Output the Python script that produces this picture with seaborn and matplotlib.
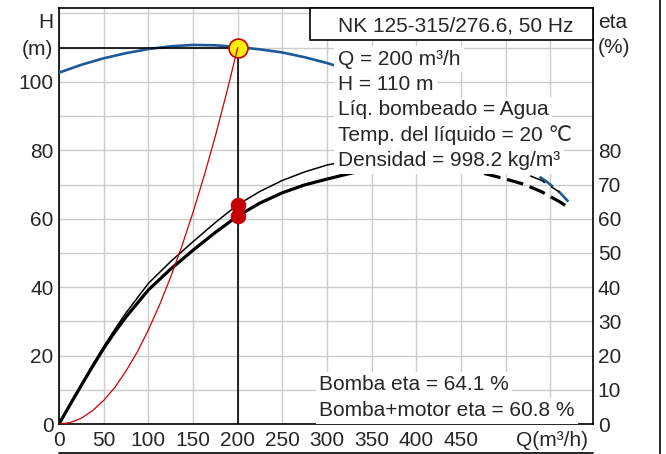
import numpy as np
import matplotlib
matplotlib.use('Agg')
import matplotlib.pyplot as plt
from matplotlib.lines import Line2D
from matplotlib.patches import Rectangle
import seaborn as sns

# curva Q-H de la bomba
q_head = [0, 25, 50, 75, 100, 125, 150, 175, 200, 225, 250, 275, 300, 325, 350, 375, 400,
          425, 450, 475, 500, 525, 545, 560, 570]
h_head = [102.7, 105.0, 106.9, 108.4, 109.6, 110.4, 110.8, 110.7, 110.2, 109.5, 108.6, 107.2,
          105.5, 103.5, 101.0, 98.2, 95.0, 91.5, 87.6, 83.3, 78.6, 74.5, 71.0, 67.8, 65.0]

# curva de la instalacion
q_system = [0, 12.5, 25, 37.5, 50, 62.5, 75, 87.5, 100, 112.5, 125, 137.5, 150, 162.5, 175,
            187.5, 200]
h_system = [0, 0.4, 1.7, 3.9, 6.9, 10.7, 15.5, 21.0, 27.5, 34.8, 43.0, 52.0, 61.9, 72.6, 84.2,
            96.7, 110.0]

# rendimiento bomba
q_eta_pump = [0, 12.5, 25, 37.5, 50, 62.5, 75, 100, 125, 150, 175, 200, 225, 250, 275, 300,
              325, 350, 375, 400, 425, 450, 475, 500, 520, 540, 560]
eta_pump = [0, 5.9, 11.6, 17.2, 22.6, 27.7, 32.5, 41.1, 47.5, 53.3, 58.9, 64.1, 68.0, 71.2,
            73.7, 75.7, 77.0, 78.0, 78.4, 78.3, 77.8, 76.9, 75.7, 74.5, 73.3, 71.2, 67.8]

# rendimiento bomba+motor
q_eta_total = [0, 12.5, 25, 37.5, 50, 62.5, 75, 100, 125, 150, 175, 200, 225, 250, 275, 300,
               325, 350, 375, 400, 425, 450, 475, 500, 520, 540, 560, 569]
eta_total = [0, 5.7, 11.3, 16.8, 22.1, 26.9, 31.3, 39.2, 45.3, 50.8, 56.0, 60.8, 64.6, 67.6,
             69.9, 71.6, 73.2, 74.6, 75.3, 75.5, 75.3, 74.6, 73.3, 71.6, 70.1, 67.9, 65.0, 63.5]

# punto de trabajo
q_op = 200
h_op = 110
eta_op = [64.1, 60.8]
dash_from = 450

x_ticks = [0, 50, 100, 150, 200, 250, 300, 350, 400, 450, 500, 550]
x_labels = ['0', '50', '100', '150', '200', '250', '300', '350', '400', '450', '', '']
h_ticks = list(range(0, 121, 10))
h_labels = ['0', '', '20', '', '40', '', '60', '', '80', '', '100', '', '']
eta_ticks = list(range(0, 81, 10))

info_lines = ['Q = 200 m³/h', 'H = 110 m', 'Líq. bombeado = Agua',
              'Temp. del líquido = 20 ℃', 'Densidad = 998.2 kg/m³']
eta_lines = ['Bomba eta = 64.1 %', 'Bomba+motor eta = 60.8 %']

sns.set_theme(style='white')
plt.rcParams['font.family'] = ['Liberation Sans', 'DejaVu Sans']
plt.rcParams['lines.scale_dashes'] = False
FS = 15

blue = '#1b5a94'
red = '#cc0000'

fig = plt.figure(figsize=(6.66, 4.54), dpi=100)
ax = fig.add_axes([59 / 666, 30 / 454, 534 / 666, 416 / 454])


def draw_curve(q, v, color, lw, z=3):
    q = np.array(q)
    v = np.array(v)
    solid = q <= dash_from
    dashed = q >= dash_from
    sns.lineplot(x=q[solid], y=v[solid], ax=ax, color=color, lw=lw, estimator=None,
                 sort=False, zorder=z)
    sns.lineplot(x=q[dashed], y=v[dashed], ax=ax, color=color, lw=lw, estimator=None,
                 sort=False, zorder=z, linestyle=(0, (12, 5)))


draw_curve(q_head, h_head, blue, 1.9)
draw_curve(q_eta_pump, eta_pump, 'black', 1.1)
draw_curve(q_eta_total, eta_total, 'black', 2.3)

ax.vlines(q_op, 0, h_op, color='black', lw=1.2, zorder=3)
ax.hlines(h_op, 0, q_op, color='black', lw=1.2, zorder=3)

sns.scatterplot(x=[q_op], y=[h_op], ax=ax, s=185, color='#ffee00', edgecolor=red,
                linewidth=1.2, zorder=4)
sns.scatterplot(x=[q_op] * len(eta_op), y=eta_op, ax=ax, s=115, color='#c40000',
                edgecolor='#c40000', linewidth=0.5, zorder=4)
sns.lineplot(x=q_system, y=h_system, ax=ax, color=red, lw=0.9, estimator=None, sort=False,
             zorder=5)

ax.set_xlim(0, 597.6)
ax.set_ylim(0, 121.6)
ax.set_xticks(x_ticks)
ax.set_xticklabels(x_labels, fontsize=FS)
ax.set_yticks(h_ticks)
ax.set_yticklabels(h_labels, fontsize=FS)
ax.tick_params(length=0)
ax.tick_params(axis='x', pad=5)
ax.tick_params(axis='y', pad=4)
ax.grid(True, color='#cccccc', lw=1.0, zorder=0)
ax.set_axisbelow(True)
ax.set_xlabel('')
ax.set_ylabel('')
for s in ax.spines.values():
    s.set_color('black')
    s.set_linewidth(1.2)

ax2 = ax.twinx()
ax2.set_ylim(ax.get_ylim())
ax2.set_yticks(eta_ticks)
ax2.set_yticklabels([str(t) for t in eta_ticks], fontsize=FS)
ax2.tick_params(length=0, pad=3.5)
for s in ax2.spines.values():
    s.set_visible(False)

ax.text(-0.0112, 0.966, 'H', transform=ax.transAxes, ha='right', va='center', fontsize=FS)
ax.text(-0.0112, 0.901, '(m)', transform=ax.transAxes, ha='right', va='center', fontsize=FS)
ax.text(1.0094, 0.966, 'eta', transform=ax.transAxes, ha='left', va='center', fontsize=FS)
ax.text(1.0094, 0.904, '(%)', transform=ax.transAxes, ha='left', va='center', fontsize=FS)
ax.text(0.9906, -0.0385, 'Q(m³/h)', transform=ax.transAxes, ha='right', va='center',
        fontsize=FS)

# caja del titulo
ax.add_patch(Rectangle((0.470, 0.923), 0.530, 0.077, transform=ax.transAxes,
                       facecolor='white', edgecolor='black', lw=1.2, zorder=6,
                       clip_on=False))
ax.text(0.743, 114.7 / 121.6, 'NK 125-315/276.6, 50 Hz', transform=ax.transAxes,
        ha='center', va='baseline', fontsize=FS, zorder=7)

box = dict(facecolor='white', edgecolor='none', pad=2.5)
for i, line in enumerate(info_lines):
    ax.text(0.5225, 105.0 - 7.4 * i, line, transform=ax.get_yaxis_transform(),
            ha='left', va='baseline', fontsize=FS, bbox=box, zorder=7)
for i, line in enumerate(eta_lines):
    ax.text(0.487, 9.9 - 7.6 * i, line, transform=ax.get_yaxis_transform(),
            ha='left', va='baseline', fontsize=FS, bbox=box, zorder=7)

# marco exterior recortado
fig.add_artist(Line2D([660 / 666, 660 / 666], [0, 1], transform=fig.transFigure,
                      color='black', lw=1.2))
fig.add_artist(Line2D([59 / 666, 593 / 666], [1.5 / 454, 1.5 / 454],
                      transform=fig.transFigure, color='black', lw=1.2))

fig.savefig('out.png', dpi=100)
